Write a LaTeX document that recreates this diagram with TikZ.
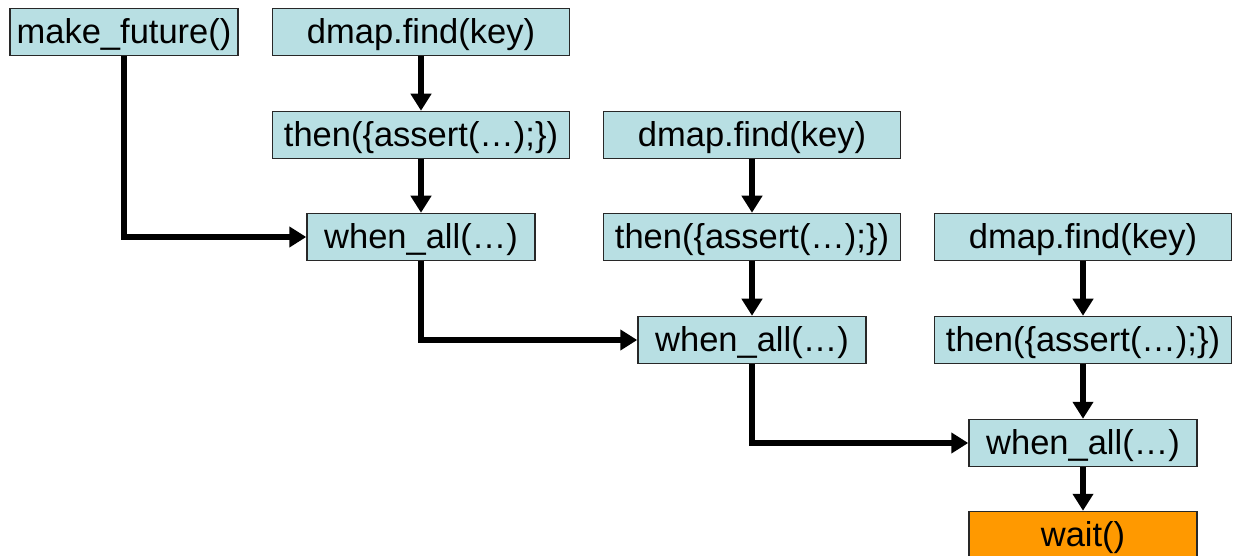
\documentclass[tikz,border=0pt]{standalone}
\usepackage{fontspec}
\setmainfont{Liberation Sans}
\usetikzlibrary{arrows.meta}
\definecolor{boxblue}{RGB}{184,223,227}
\definecolor{boxorange}{RGB}{255,153,0}
\definecolor{edge}{RGB}{40,40,40}
\tikzset{
  fbox/.style={draw=edge, line width=1.5pt, fill=boxblue, minimum height=47pt, inner sep=0pt, text height=28pt, text depth=5pt, font=\fontsize{34.5}{40}\selectfont},
  wide/.style={fbox, minimum width=297pt},
  narrow/.style={fbox, minimum width=228pt},
  conn/.style={line width=6pt, -{Triangle[width=20pt,length=17pt]}}
}
\begin{document}
\begin{tikzpicture}[x=1pt,y=-1pt]
\useasboundingbox (0,0) rectangle (1235,556);
\node[narrow] (mf) at (124,32) {make\_future()};
\node[wide] (d1) at (421,32) {dmap.find(key)};
\node[wide] (t1) at (421,135) {then(\{assert(…);\})};
\node[narrow] (w1) at (421,237) {when\_all(…)};
\node[wide] (d2) at (752,135) {dmap.find(key)};
\node[wide] (t2) at (752,237) {then(\{assert(…);\})};
\node[narrow] (w2) at (752,340) {when\_all(…)};
\node[wide] (d3) at (1083,237) {dmap.find(key)};
\node[wide] (t3) at (1083,340) {then(\{assert(…);\})};
\node[narrow] (w3) at (1083,443) {when\_all(…)};
\node[narrow, fill=boxorange] (wt) at (1083,535) {wait()};
\draw[conn] (d1) -- (t1);
\draw[conn] (t1) -- (w1);
\draw[conn] (d2) -- (t2);
\draw[conn] (t2) -- (w2);
\draw[conn] (d3) -- (t3);
\draw[conn] (t3) -- (w3);
\draw[conn] (w3) -- (wt);
\draw[conn] (mf.south) |- (w1.west);
\draw[conn] (w1.south) |- (w2.west);
\draw[conn] (w2.south) |- (w3.west);
\end{tikzpicture}
\end{document}
